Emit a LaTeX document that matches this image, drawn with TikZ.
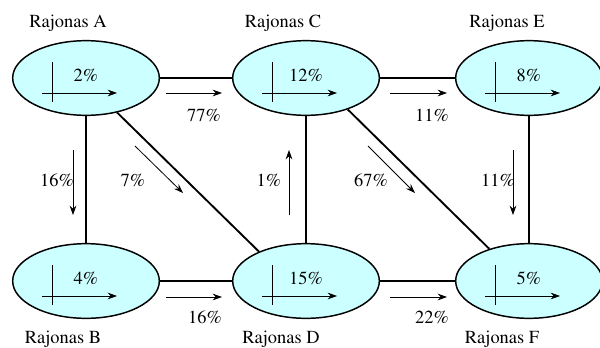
\documentclass[tikz,border=0pt]{standalone}
\usepackage[T1]{fontenc}
\usepackage{mathptmx}
\usepackage{xcolor}
\usepackage{tikz}
\usetikzlibrary{shapes.geometric, arrows.meta, positioning}
\definecolor{regionfill}{HTML}{CCFFFF}

\begin{document}
\begin{tikzpicture}[
    x=0.75pt, y=-0.75pt,
    region/.style={ellipse, draw, line width=1.1pt, fill=regionfill, minimum width=110pt, minimum height=56pt, inner sep=0pt, text height=9pt, text depth=4.5pt, font=\rmfamily\fontsize{13.8}{16}\selectfont},
    link/.style={line width=1.4pt},
    flow/.style={-{Stealth[length=7pt,width=5pt]}, line width=0.6pt},
    axis/.style={line width=0.6pt},
    txt/.style={anchor=base, inner sep=0pt, font=\rmfamily\fontsize{13.8}{16}\selectfont}
]
    \useasboundingbox (0,0) rectangle (600,347);

    % regions
    \node[region] (a) at (86,78) {2\%};
    \node[region] (c) at (306,78) {12\%};
    \node[region] (e) at (529,78) {8\%};
    \node[region] (b) at (86,281) {4\%};
    \node[region] (d) at (306,281) {15\%};
    \node[region] (f) at (529,281) {5\%};

    % region names
    \node[txt] (namea) at (68,27) {Rajonas A};
    \node[txt] (namec) at (283,27) {Rajonas C};
    \node[txt] (namee) at (507,27) {Rajonas E};
    \node[txt] (nameb) at (63,343) {Rajonas B};
    \node[txt] (named) at (281,343) {Rajonas D};
    \node[txt] (namef) at (502,343) {Rajonas F};

    % small axes inside every region
    \foreach \n in {a,b,c,d,e,f} {
        \draw[axis] ([shift={(-34,-16)}]\n.center) -- ([shift={(-34,24)}]\n.center);
        \draw[flow] ([shift={(-44,15)}]\n.center) -- ([shift={(31,15)}]\n.center);
    }

    % links
    \draw[link] (a) -- (c);
    \draw[link] (c) -- (e);
    \draw[link] (b) -- (d);
    \draw[link] (d) -- (f);
    \draw[link] (a) -- (b);
    \draw[link] (c) -- (d);
    \draw[link] (e) -- (f);
    \draw[link] (a.-48) -- (d.148);
    \draw[link] (c.-37) -- (f.141);

    % flows
    \draw[flow] ([shift={(80,15)}]a.center) -- ([shift={(-84,15)}]c.center);
    \draw[flow] ([shift={(84,15)}]c.center) -- ([shift={(-82,15)}]e.center);
    \draw[flow] ([shift={(80,16)}]b.center) -- ([shift={(-84,16)}]d.center);
    \draw[flow] ([shift={(84,16)}]d.center) -- ([shift={(-82,16)}]f.center);
    \draw[flow] ([shift={(-13,72)}]a.center) -- ([shift={(-13,-66)}]b.center);
    \draw[flow] ([shift={(-17,-66)}]d.center) -- ([shift={(-17,72)}]c.center);
    \draw[flow] ([shift={(-16,72)}]e.center) -- ([shift={(-16,-66)}]f.center);
    \draw[flow] ([shift={(49,68)}]a.center) -- ([shift={(-123,-88)}]d.center);
    \draw[flow] ([shift={(62,68)}]c.center) -- ([shift={(-114,-88)}]f.center);

    % flow shares
    \node[txt] (pac) at (204,121) {77\%};
    \node[txt] (pce) at (432,121) {11\%};
    \node[txt] (pbd) at (205,323) {16\%};
    \node[txt] (pdf) at (432,323) {22\%};
    \node[txt] (pab) at (57,186) {16\%};
    \node[txt] (pad) at (133,186) {7\%};
    \node[txt] (pdc) at (269,186) {1\%};
    \node[txt] (pcf) at (371,186) {67\%};
    \node[txt] (pef) at (498,186) {11\%};
\end{tikzpicture}
\end{document}
